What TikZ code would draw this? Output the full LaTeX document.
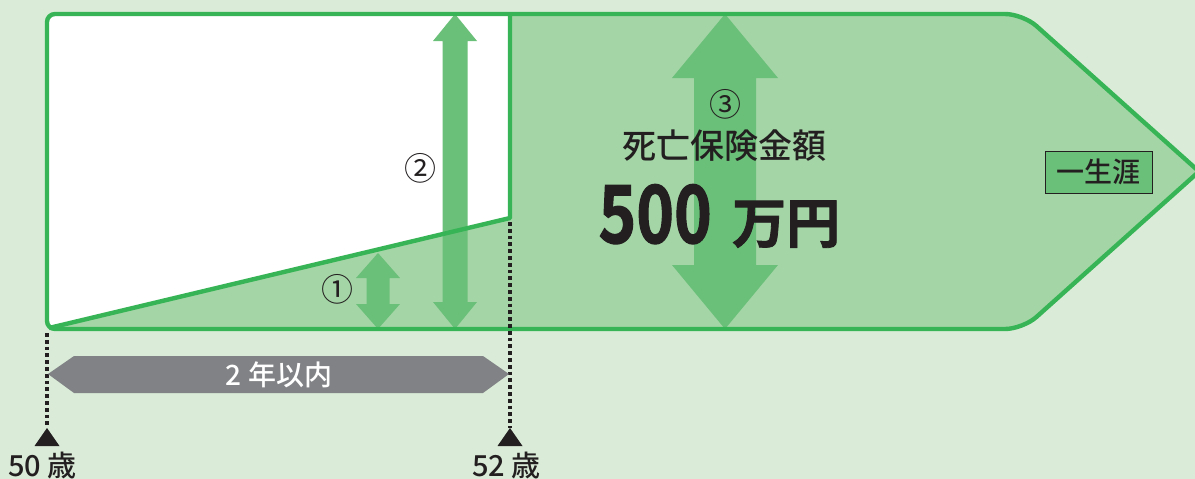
\documentclass[tikz,border=0pt]{standalone}
\usepackage{fontspec}
\newfontfamily\jp{Noto Sans CJK JP}
\newfontfamily\jpm{Noto Sans CJK JP Medium}
\newfontfamily\jpb[FakeBold=1.5]{Noto Sans CJK JP Bold}
\usetikzlibrary{calc}
\definecolor{bgc}{HTML}{DAECD8}
\definecolor{mainfill}{HTML}{A4D5A6}
\definecolor{arrowc}{HTML}{6BC079}
\definecolor{strokec}{HTML}{37B556}
\definecolor{grayc}{HTML}{808285}
\definecolor{inkc}{HTML}{231F20}
\newcommand{\mymainpath}{(47,170) [rounded corners=8] -- (47,14) [rounded corners=18] -- (1023,14) [sharp corners] -- (1199,171.5) [rounded corners=18] -- (1023,329) [rounded corners=8] -- (47,329) -- cycle}
\newcommand{\mydblarrow}[6]{%
  \fill[arrowc] (#1,#2) -- ({#1+#5/2},{#2+#6}) -- ({#1+#4/2},{#2+#6}) -- ({#1+#4/2},{#3-#6}) -- ({#1+#5/2},{#3-#6}) -- (#1,#3) -- ({#1-#5/2},{#3-#6}) -- ({#1-#4/2},{#3-#6}) -- ({#1-#4/2},{#2+#6}) -- ({#1-#5/2},{#2+#6}) -- cycle;}
\tikzset{
  greenline/.style={draw=strokec, line width=4.4pt, line join=round},
  dotline/.style={draw=inkc, line width=4.2pt, dash pattern=on 3.8pt off 3pt},
  tri/.style={fill=inkc},
  txt/.style={inner sep=0pt, text=inkc, font=\jpm},
}
\begin{document}
\begin{tikzpicture}[x=1pt,y=-1pt]
\useasboundingbox (0,0) rectangle (1195,479);
\fill[bgc] (0,0) rectangle (1195,479);
% coordinates
\coordinate (TL) at (47,14);
\coordinate (BLc) at (47,329);
\coordinate (V) at (510,14);
\coordinate (D) at (510,218);
\coordinate (Dstart) at (49,328);
% main shape
\fill[mainfill] \mymainpath;
\begin{scope}
  \clip \mymainpath;
  \fill[white] (40,8) -- (510,8) -- (510,218) -- (47,329) -- (40,329) -- cycle;
  \mydblarrow{725}{14}{329}{62}{106}{64}
  \mydblarrow{455}{14}{329}{25}{44}{27}
  \mydblarrow{378}{253}{329}{23}{44}{25}
\end{scope}
\draw[greenline] (Dstart) -- (D) -- (V);
\draw[greenline] \mymainpath;
% dotted guides
\coordinate (L1) at (47,333);
\coordinate (L2) at (47,428);
\coordinate (R1) at (510,222);
\coordinate (R2) at (510,428);
\draw[dotline] (L1) -- (L2);
\draw[dotline] (R1) -- (R2);
\fill[tri] (47,428) -- (59.5,446) -- (34.5,446) -- cycle;
\fill[tri] (510,428) -- (522.5,446) -- (497.5,446) -- cycle;
% gray bar
\fill[grayc] (48,374) -- (74,356) -- (483,356) -- (509,374) -- (483,393) -- (74,393) -- cycle;
\node[txt, text=white, font=\jpm\fontsize{28}{28}\selectfont] (span) at (279,375) {2 年以内};
% labels
\node[txt, anchor=base west, font=\jpm\fontsize{29}{29}\selectfont] (a50) at (8,476) {50 歳};
\node[txt, anchor=base west, font=\jpm\fontsize{29}{29}\selectfont] (a52) at (472,476) {52 歳};
\node[txt, font=\jp\fontsize{32}{32}\selectfont] (c1) at (337,289) {①};
\node[txt, font=\jp\fontsize{32}{32}\selectfont] (c2) at (420,168) {②};
\node[txt, font=\jp\fontsize{32}{32}\selectfont] (c3) at (725,104) {③};
\node[txt, font=\jpm\fontsize{34}{34}\selectfont] (death) at (724,146) {死亡保険金額};
\node[txt, anchor=base east, xscale=0.8, font=\jpb\fontsize{80}{80}\selectfont] (amt) at (712,243) {500};
\node[txt, anchor=base west, font=\jpb\fontsize{54}{54}\selectfont] (unit) at (732,243) {万円};
\node[draw=inkc, line width=1pt, fill=arrowc, minimum width=107pt, minimum height=42pt, inner sep=0pt, text=inkc, font=\jpm\fontsize{28}{28}\selectfont] (life) at (1098.5,172) {一生涯};
\end{tikzpicture}
\end{document}
